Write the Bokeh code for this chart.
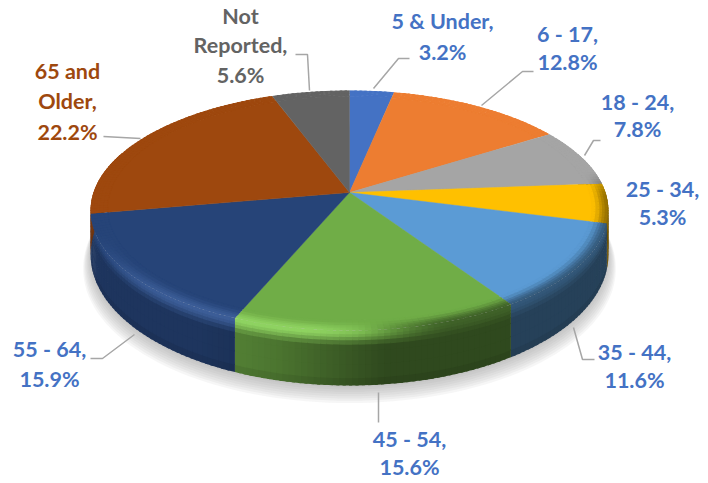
import math
from bokeh.plotting import figure
from bokeh.models import Range1d
from bokeh.core.properties import value
from bokeh.embed import file_html
from bokeh.resources import INLINE

categories = ["5 & Under", "6 - 17", "18 - 24", "25 - 34", "35 - 44", "45 - 54", "55 - 64", "65 and Older", "Not Reported"]
shares = [3.2, 12.8, 7.8, 5.3, 11.6, 15.6, 15.9, 22.2, 5.6]
colors = ["#4472C4", "#ED7D31", "#A5A5A5", "#FFC000", "#5B9BD5", "#70AD47", "#264478", "#9E480E", "#636363"]

label_lines = [["5 & Under,", "3.2%"], ["6 - 17,", "12.8%"], ["18 - 24,", "7.8%"], ["25 - 34,", "5.3%"],
               ["35 - 44,", "11.6%"], ["45 - 54,", "15.6%"], ["55 - 64,", "15.9%"],
               ["65 and", "Older,", "22.2%"], ["Not", "Reported,", "5.6%"]]
label_x = [442, 567, 637, 662, 634, 409, 49, 67, 240]
label_y = [[20, 51], [33, 61], [101, 128], [188, 216], [351, 379], [438, 466], [348, 378], [70, 100, 131], [15, 44, 74]]
label_colors = ["#4472C4"] * 7 + ["#9E480E", "#636363"]
leader_x = [[373, 398, 409], [481, 522, 533], [584, 593, 600], [573, 582, 594], [378, 378], [134, 102, 90], [140, 103], [309, 307, 295]]
leader_y = [[88, 58, 58], [105, 71, 71], [155, 140, 140], [327, 359, 359], [392, 422], [334, 358, 358], [138, 136], [90, 54, 54]]

CX, CY, A, B, K = 349.0, 192.0, 256.0, 117.3, 0.15


def proj(r, th, dy=0.0):
    u, v = math.sin(th) * r, math.cos(th) * r
    s = 1 / (1 + K * v)
    return CX + A * u * s, CY - B * v * s + dy


def depth(th):
    return 42 - 13 * math.cos(th)


def rgb(h):
    return [int(h[i:i + 2], 16) for i in (1, 3, 5)]


def mix(a, b, t):
    return [a[i] + (b[i] - a[i]) * t for i in range(3)]


def hexc(c):
    return "#%02x%02x%02x" % tuple(max(0, min(255, int(round(x)))) for x in c)


def sstep(a, b, x):
    t = max(0.0, min(1.0, (x - a) / (b - a)))
    return t * t * (3 - 2 * t)


def side_color(base, th):
    u = math.sin(th)
    if u < -0.5:
        f = 0.78
    elif u < -0.25:
        f = 0.78 + (0.68 - 0.78) * (u + 0.5) / 0.25
    elif u < 0.12:
        f = 0.68 + (0.42 - 0.68) * (u + 0.25) / 0.37
    else:
        f = 0.42
    return [x * f for x in base]


def rim_color(base, th):
    u, v = math.sin(th), math.cos(th)
    front = 1 - sstep(-0.85, -0.3, v)
    lit = (1 - sstep(-0.15, 0.2, u)) * front
    right = sstep(0.0, 0.35, u) * (1 - sstep(-0.05, 0.2, v))
    c = mix(base, [min(255, x * 1.12 + 18) for x in base], lit)
    return mix(c, side_color(base, th), 0.75 * right)


p = figure(width=708, height=483, x_range=Range1d(0, 708), y_range=Range1d(483, 0),
           output_backend="svg", toolbar_location=None, x_axis_location=None, y_axis_location=None,
           min_border=0, outline_line_color=None, background_fill_color="white")
p.grid.visible = False

# soft shadow under the pie
for i in range(8):
    grow = 1.028 - i * 0.004
    off = 13 - i * 1.6
    pts = [proj(grow, 2 * math.pi * j / 180, depth(2 * math.pi * j / 180) + off) for j in range(180)]
    p.patch([q[0] for q in pts], [q[1] for q in pts], fill_color="#808080", fill_alpha=0.075, line_color=None)

xs, ys, fc = [], [], []
top_xs, top_ys, top_fc = [], [], []
band_xs, band_ys, band_fc = [], [], []
SIDE_T = [0, 0.05, 0.1, 0.16, 0.24, 0.35, 0.6, 0.85, 1.0]
TOP_R = [0.93, 0.945, 0.96, 0.97, 0.98, 0.99, 1.0]

start = 0.0
total = sum(shares)
for share, col in zip(shares, colors):
    a0 = start / total * 2 * math.pi
    a1 = (start + share) / total * 2 * math.pi
    start += share
    base = rgb(col)
    n = max(4, int(share * 3))
    ang = [a0 + (a1 - a0) * i / n for i in range(n + 1)]
    # flat inner wedge
    arc = [proj(0.935, t) for t in ang]
    top_xs.append([CX] + [q[0] for q in arc])
    top_ys.append([CY] + [q[1] for q in arc])
    top_fc.append(col)
    ov = (a1 - a0) / n * 0.5
    for t0, t1 in zip(ang[:-1], ang[1:]):
        tm = (t0 + t1) / 2
        rim = rim_color(base, tm)
        sc = side_color(base, tm)
        te = t1 + ov if t1 < a1 - 1e-9 else t1
        # bevel on the face: outermost first, each inner band overlaps the one before it
        for r0, r1 in reversed(list(zip(TOP_R[:-1], TOP_R[1:]))):
            w = sstep(0.93, 1.0, (r0 + r1) / 2)
            pts = [proj(r0, t0), proj(r0, te), proj(min(1, r1 + 0.006), te), proj(min(1, r1 + 0.006), t0)]
            band_xs.append([q[0] for q in pts])
            band_ys.append([q[1] for q in pts])
            band_fc.append(hexc(mix(base, rim, w)))
        # wall: lowest first, each upper band overlaps the one below it
        if math.cos(tm) < 0.35:
            for d0, d1 in reversed(list(zip(SIDE_T[:-1], SIDE_T[1:]))):
                w = sstep(0.0, 0.3, (d0 + d1) / 2)
                c = mix(rim, sc, w)
                if d0 >= 0.85:
                    c = [x * 0.93 for x in c]
                ex = 0.0 if d1 == 1.0 else 1.0
                pts = [proj(1, t0, d0 * depth(t0)), proj(1, te, d0 * depth(te)),
                       proj(1, te, d1 * depth(te) + ex), proj(1, t0, d1 * depth(t0) + ex)]
                xs.append([q[0] for q in pts])
                ys.append([q[1] for q in pts])
                fc.append(hexc(c))

p.patches(xs, ys, fill_color=fc, line_color=None)
p.patches(band_xs, band_ys, fill_color=band_fc, line_color=None)
p.patches(top_xs, top_ys, fill_color=top_fc, line_color=top_fc, line_width=0.4)

p.multi_line(leader_x, leader_y, line_color="#A6A6A6", line_width=1.5)

for lines, x, yy, c in zip(label_lines, label_x, label_y, label_colors):
    p.text([x] * len(lines), yy, text=lines, text_color=c, text_align="center", text_baseline="middle",
           text_font=value("Lato"), text_font_style="bold", text_font_size="21.5px")

open("out.html", "w").write(file_html(p, INLINE))
